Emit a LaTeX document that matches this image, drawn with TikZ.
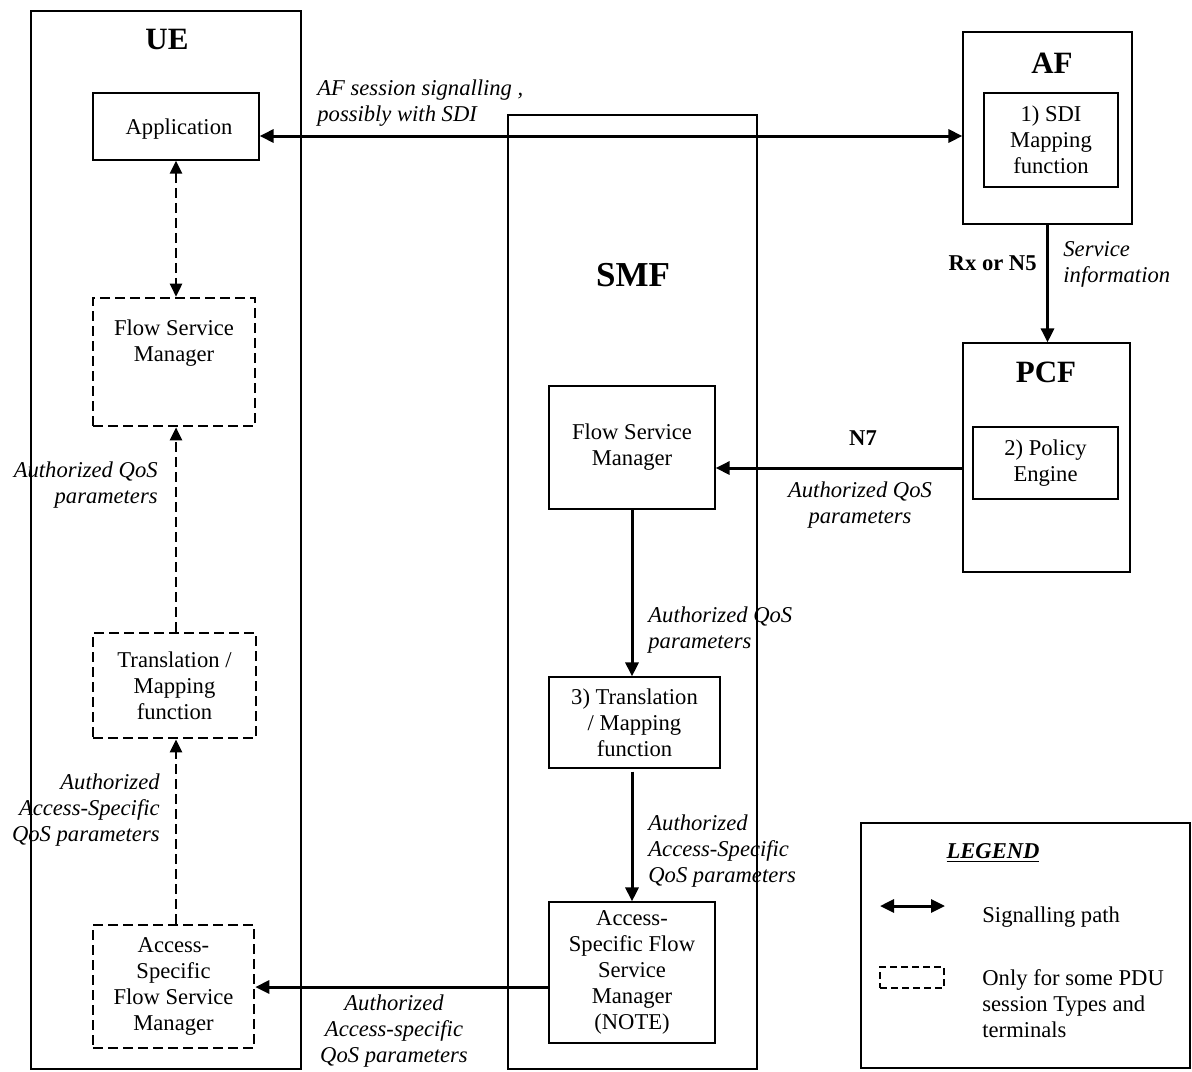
\documentclass[tikz,border=0pt]{standalone}
\usepackage{fontspec}
\setmainfont{Liberation Serif}
\usetikzlibrary{arrows.meta,calc}

\begin{document}
\begin{tikzpicture}[x=0.5pt,y=-0.5pt,line join=miter,>={Triangle[length=7pt,width=6.5pt]},
	every node/.style={font=\fontsize{11.3pt}{13pt}\selectfont, inner sep=0pt, align=center},
	group/.style={draw, line width=0.6pt},
	fbox/.style={draw, line width=0.6pt},
	optbox/.style={draw, line width=1.3pt, dash pattern=on 5pt off 2.5pt},
	title/.style={font=\fontsize{15.5pt}{18pt}\selectfont\bfseries},
	bold/.style={font=\fontsize{11.3pt}{13pt}\selectfont\bfseries},
	lbl/.style={font=\fontsize{11.3pt}{13pt}\selectfont\itshape},
	sig/.style={line width=1.5pt},
	optsig/.style={line width=1.3pt, dash pattern=on 5pt off 2.5pt, >={Triangle[length=6.5pt,width=6pt]}}]
	\useasboundingbox (0,0) rectangle (1192,1071);
	
	% 1. UE
	\node[group, minimum width=135pt, minimum height=529pt] (ue) at (166,540) {};
	\node[title] (uetitle) at (167,39) {UE};
	\node[fbox, minimum width=83pt, minimum height=33.5pt] (app) at (176,126.5) {};
	\node (apptxt) at (179,129) {Application};
	\node[optbox, minimum width=81pt, minimum height=64pt] (uefsm) at (174,362) {};
	\node (uefsmtxt) at (174,343) {Flow Service\\Manager};
	\node[optbox, minimum width=81.5pt, minimum height=52.5pt] (uetrans) at (174.5,685.5) {Translation /\\Mapping\\function};
	\node[optbox, minimum width=80.5pt, minimum height=61.5pt] (ueasfsm) at (173.5,986.5) {Access-\\Specific\\Flow Service\\Manager};
	
	% 2. SMF
	\node[group, minimum width=124.5pt, minimum height=477pt] (smf) at (632.5,592) {};
	\node[font=\fontsize{17.5pt}{20pt}\selectfont\bfseries] (smftitle) at (633,275) {SMF};
	\node[fbox, minimum width=83pt, minimum height=61.5pt] (smffsm) at (632,447.5) {Flow Service\\Manager};
	\node[fbox, minimum width=85.5pt, minimum height=45.5pt] (smftrans) at (634.5,722.5) {3) Translation\\/ Mapping\\function};
	\node[fbox, minimum width=83pt, minimum height=70.5pt] (smfasfsm) at (632,972.5) {Access-\\Specific Flow\\Service\\Manager\\(NOTE)};
	
	% 3. AF and PCF
	\node[group, minimum width=84.5pt, minimum height=96pt] (af) at (1047.5,128) {};
	\node[title] (aftitle) at (1052,63) {AF};
	\node[fbox, minimum width=67pt, minimum height=47pt] (sdi) at (1051,140) {1) SDI\\Mapping\\function};
	\node[group, minimum width=83.5pt, minimum height=114.5pt] (pcf) at (1046.5,457.5) {};
	\node[title] (pcftitle) at (1046,372) {PCF};
	\node[fbox, minimum width=72.5pt, minimum height=36pt] (policy) at (1045.5,463) {2) Policy\\Engine};
	
	% 4. Signalling
	\draw[sig, <->] ([yshift=-4.75pt]app.east) -- ([yshift=-4.75pt]app.east -| af.west);
	\node[lbl, anchor=west, align=left] (aflbl) at (317,103.5) {AF session signalling ,\\possibly with SDI};
	
	\draw[sig, ->] (af.south) -- (af.south |- pcf.north);
	\node[bold, anchor=east] (rxlbl) at (1037,263) {Rx or N5};
	\node[lbl, anchor=west, align=left] (silbl) at (1063,264) {Service\\information};
	
	\draw[sig, ->] ([yshift=-5.25pt]pcf.west) -- ([yshift=-5.25pt]pcf.west -| smffsm.east);
	\node[bold] (n7lbl) at (863,438) {N7};
	\node[lbl] (n7qos) at (860,505) {Authorized QoS\\parameters};
	
	\draw[sig, ->] (smffsm.south) -- (smffsm.south |- smftrans.north);
	\node[lbl, anchor=west, align=left] (smfqos) at (648,630.5) {Authorized QoS\\parameters};
	\draw[sig, ->] ([yshift=-1.5pt]smftrans.south -| smffsm.south) -- (smffsm.south |- smfasfsm.north);
	\node[lbl, anchor=west, align=left] (smfasqos) at (648,851) {Authorized\\Access-Specific\\QoS parameters};
	
	\draw[sig, ->] ([yshift=-7.25pt]smfasfsm.west) -- ([yshift=-7.25pt]smfasfsm.west -| ueasfsm.east);
	\node[lbl] (n1qos) at (394,1031) {Authorized\\Access-specific\\QoS parameters};
	
	% 5. UE internal (optional)
	\draw[optsig, <->] (app.south) -- (app.south |- uefsm.north);
	\draw[optsig, ->] (app.south |- uetrans.north) -- (app.south |- uefsm.south);
	\node[lbl, anchor=east, align=right] (ueqos) at (158,485) {Authorized QoS\\parameters};
	\draw[optsig, ->] (app.south |- ueasfsm.north) -- (app.south |- uetrans.south);
	\node[lbl, anchor=east, align=right] (ueasqos) at (160,810) {Authorized\\Access-Specific\\QoS parameters};
	
	% 6. Legend
	\node[group, minimum width=164.5pt, minimum height=122.5pt] (legend) at (1025.5,945.5) {};
	\node[font=\fontsize{11.3pt}{13pt}\selectfont\bfseries\itshape] (legendtitle) at (993,853) {\underline{LEGEND}};
	\coordinate (lgsiga) at (880,906);
	\coordinate (lgsigb) at (945,906);
	\draw[sig, <->] (lgsiga) -- (lgsigb);
	\node[anchor=west] (lgsigtxt) at (982,917) {Signalling path};
	\node[draw, line width=1pt, dash pattern=on 3.5pt off 2pt, minimum width=32pt, minimum height=10.5pt] (lgopt) at (912,977.5) {};
	\node[anchor=west, align=left] (lgopttxt) at (982,1004) {Only for some PDU\\session Types and\\terminals};
\end{tikzpicture}
\end{document}
